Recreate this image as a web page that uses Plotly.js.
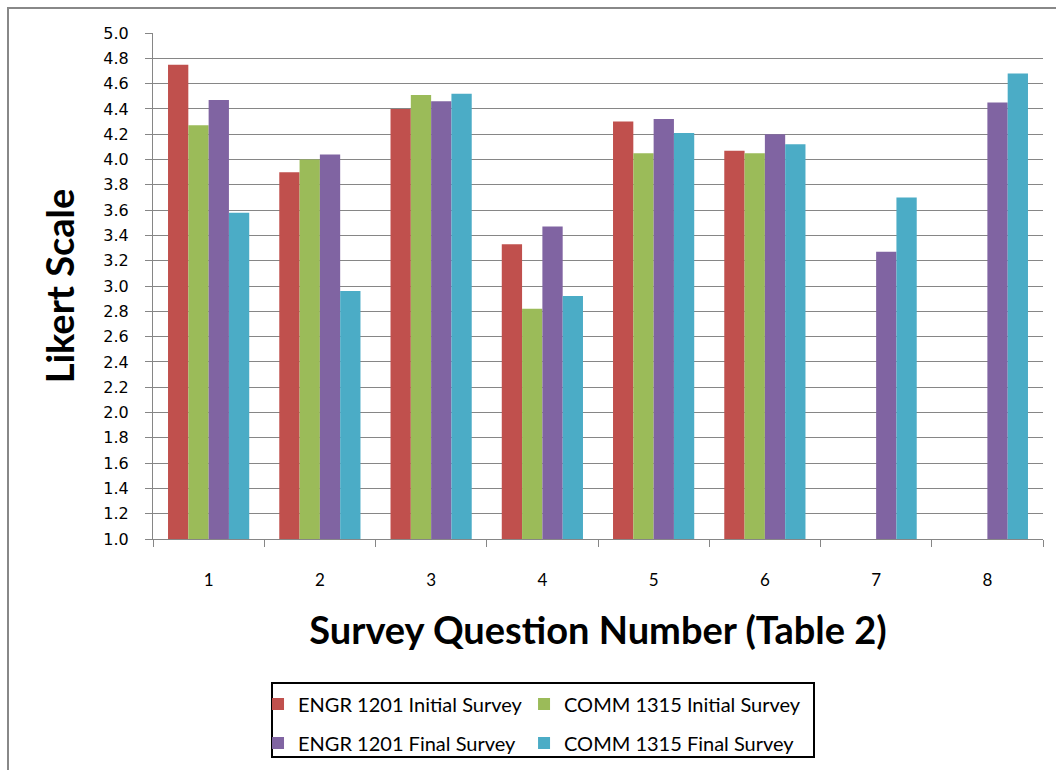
<!DOCTYPE html>
<html>
<head>
<meta charset="utf-8">
<script src="https://cdn.plot.ly/plotly-3.0.1.min.js"></script>
<style>
  html, body { margin: 0; padding: 0; background: #fff; overflow: hidden; width: 1056px; height: 770px; }
  #frame { position: absolute; left: 7px; top: 7px; width: 2000px; height: 2000px; border: 2px solid #888; }
  #chart { position: absolute; left: 0; top: 0; width: 1056px; height: 800px; }
</style>
</head>
<body>
<div id="frame"></div>
<div id="chart"></div>
<script>
const categories = ['1', '2', '3', '4', '5', '6', '7', '8'];
const engrInitial = [4.75, 3.90, 4.40, 3.33, 4.30, 4.07, null, null];
const commInitial = [4.27, 4.00, 4.51, 2.82, 4.05, 4.05, null, null];
const engrFinal   = [4.47, 4.04, 4.46, 3.47, 4.32, 4.20, 3.27, 4.45];
const commFinal   = [3.58, 2.96, 4.52, 2.92, 4.21, 4.12, 3.70, 4.68];
const seriesNames = ['ENGR 1201 Initial Survey', 'COMM 1315 Initial Survey', 'ENGR 1201 Final Survey', 'COMM 1315 Final Survey'];
const yTicks = [1.0, 1.2, 1.4, 1.6, 1.8, 2.0, 2.2, 2.4, 2.6, 2.8, 3.0, 3.2, 3.4, 3.6, 3.8, 4.0, 4.2, 4.4, 4.6, 4.8, 5.0];

const colors = ['#C0504D', '#9BBB59', '#8064A2', '#4BACC6'];
const values = [engrInitial, commInitial, engrFinal, commFinal];
const legendFor = ['legend', 'legend2', 'legend3', 'legend4'];

const traces = values.map((v, i) => ({
  type: 'bar',
  name: seriesNames[i],
  x: categories,
  y: v,
  marker: { color: colors[i], line: { width: 0 } },
  legend: legendFor[i],
  hovertemplate: '%{y:.2f}<extra>' + seriesNames[i] + '</extra>'
}));

const legendFont = { family: 'Lato, "Liberation Sans", sans-serif', size: 20, color: '#000' };
function legendAt(x, y) {
  return { x: x, xanchor: 'left', y: y, yanchor: 'top', orientation: 'v',
           font: legendFont, bgcolor: 'rgba(0,0,0,0)', borderwidth: 0 };
}

const layout = {
  width: 1056,
  height: 800,
  margin: { l: 153, r: 13, t: 33, b: 261 },
  paper_bgcolor: 'rgba(0,0,0,0)',
  plot_bgcolor: 'rgba(0,0,0,0)',
  barmode: 'group',
  bargap: 0.27,
  bargroupgap: 0,
  xaxis: {
    type: 'category',
    tickson: 'boundaries',
    ticks: 'outside',
    ticklen: 7,
    tickcolor: '#868686',
    showline: true,
    linecolor: '#868686',
    linewidth: 1,
    showgrid: false,
    ticklabelstandoff: 26,
    tickfont: { family: 'Lato, "Liberation Sans", sans-serif', size: 17, color: '#000' },
    title: { text: 'Survey Question Number (Table 2)', font: { family: 'Lato, sans-serif', size: 38, color: '#000', weight: 'bold' }, standoff: 27 },
    automargin: true,
    fixedrange: true
  },
  yaxis: {
    range: [1, 5],
    tickvals: yTicks,
    ticktext: yTicks.map(v => v.toFixed(1)),
    ticks: 'outside',
    ticklen: 7,
    tickcolor: '#868686',
    showline: true,
    linecolor: '#868686',
    linewidth: 1,
    showgrid: true,
    gridcolor: '#868686',
    gridwidth: 1,
    zeroline: false,
    ticklabelstandoff: 13,
    tickfont: { family: '"DejaVu Sans", Verdana, sans-serif', size: 16, color: '#000' },
    title: { text: 'Likert Scale', font: { family: 'Lato, sans-serif', size: 38, color: '#000', weight: 'bold' }, standoff: 17 },
    automargin: true,
    fixedrange: true
  },
  legend:  legendAt(0.118, -0.2875),
  legend2: legendAt(0.4169, -0.2875),
  legend3: legendAt(0.118, -0.3646),
  legend4: legendAt(0.4169, -0.3646),
  shapes: [{
    type: 'rect', xref: 'paper', yref: 'paper',
    x0: 0.1337, x1: 0.7427, y0: -0.4308, y1: -0.2846,
    line: { color: '#000', width: 2 }, fillcolor: 'rgba(0,0,0,0)', layer: 'above'
  }],
  showlegend: true
};

Plotly.newPlot('chart', traces, layout, { displayModeBar: false, staticPlot: true });
</script>
</body>
</html>
